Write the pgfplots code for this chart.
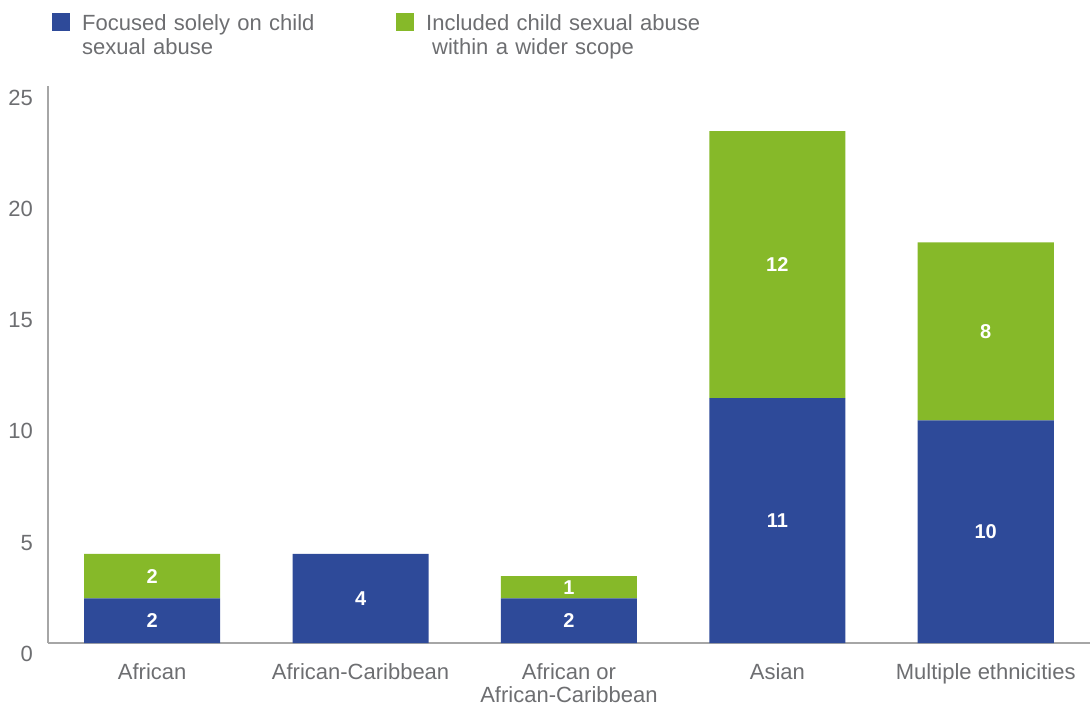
\documentclass[border=0pt]{standalone}
\usepackage{pgfplots}
\pgfplotsset{compat=1.18}
\usepackage{pgfplotstable}
\usepackage{fontspec}
\setmainfont{Liberation Sans}
\definecolor{cblue}{RGB}{46,74,153}
\definecolor{cgreen}{RGB}{134,185,41}
\definecolor{cgray}{RGB}{109,110,113}
\definecolor{caxis}{RGB}{166,166,166}

\pgfplotstableread{
x b g
0 2 2
1 4 0
2 2 1
3 11 12
4 10 8
}\data

\begin{document}
\begin{tikzpicture}[font=\fontsize{22bp}{23bp}\selectfont, text=cgray]
\path[use as bounding box] (-48bp,-63bp) rectangle (1043bp,643bp);
\begin{axis}[
  at={(0,0)}, anchor=south west,
  scale only axis, width=1042bp, height=556.5bp,
  xmin=-0.5, xmax=4.5, ymin=0, ymax=25,
  ybar stacked, bar width=136bp,
  axis x line*=bottom, axis y line*=left,
  axis line style={draw=caxis, line width=1.2bp},
  major tick length=0pt,
  /pgf/number format/assume math mode=true,
  xtick={0,1,2,3,4},
  xticklabels={African, African-Caribbean, {African or\\African-Caribbean}, Asian, Multiple ethnicities},
  xticklabel style={align=center, inner sep=0pt, anchor=north, yshift=-20bp, text=cgray, font=\fontsize{22bp}{23bp}\selectfont},
  ytick={0,5,...,25},
  yticklabel style={anchor=east, inner sep=0pt, xshift=-15bp, yshift=-11bp, text=cgray, font=\fontsize{22bp}{23bp}\selectfont},
  legend style={at={(0,1)}, anchor=north west, xshift=4bp, yshift=73.5bp,
    draw=none, fill=none, inner sep=0pt, row sep=0pt,
    legend columns=2,
    nodes={inner sep=0pt, text width=280bp, align=left, text=cgray, font=\fontsize{22bp}{24bp}\selectfont},
    cells={anchor=west},
    /tikz/every odd column/.append style={column sep=12bp},
    /tikz/every even column/.append style={column sep=34bp}},
  point meta=explicit,
]
\addplot[fill=cblue, draw=none,
  legend image code/.code={\path[fill=cblue] (0bp,-7.5bp) rectangle (18bp,10.5bp);},
  visualization depends on={\thisrow{b} \as \val},
  nodes near coords={\ifdim\val pt>0pt \pgfmathprintnumber{\pgfplotspointmeta}\fi},
  every node near coord/.append style={anchor=center, text=white, inner sep=0pt, font=\fontsize{20bp}{20bp}\selectfont\bfseries}
] table[x=x,y=b,meta=b]{\data};
\addlegendentry{Focused solely on child\\sexual abuse}
\addplot[fill=cgreen, draw=none,
  legend image code/.code={\path[fill=cgreen] (0bp,-7.5bp) rectangle (18bp,10.5bp);},
  visualization depends on={\thisrow{g} \as \val},
  nodes near coords={\ifdim\val pt>0pt \pgfmathprintnumber{\pgfplotspointmeta}\fi},
  every node near coord/.append style={anchor=center, text=white, inner sep=0pt, font=\fontsize{20bp}{20bp}\selectfont\bfseries}
] table[x=x,y=g,meta=g]{\data};
\addlegendentry{Included child sexual abuse\\\hspace*{6bp}within a wider scope}
\end{axis}
\end{tikzpicture}
\end{document}
